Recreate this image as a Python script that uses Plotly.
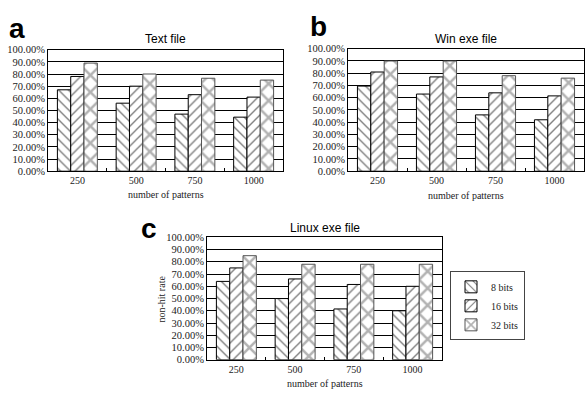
import plotly.graph_objects as go

categories = ["250", "500", "750", "1000"]
series_names = ["8 bits", "16 bits", "32 bits"]

text_8 = [67, 56, 47, 44.5]
text_16 = [78, 70, 63, 61]
text_32 = [89, 80, 76.5, 75]

win_8 = [69.5, 63, 46, 42]
win_16 = [81, 77, 64, 61.5]
win_32 = [90, 90, 78, 76]

linux_8 = [64, 50, 41.5, 40]
linux_16 = [75, 66, 61.5, 60]
linux_32 = [85, 78, 78, 78]

y_tick_vals = [0, 10, 20, 30, 40, 50, 60, 70, 80, 90, 100]
y_tick_text = ["0.00%", "10.00%", "20.00%", "30.00%", "40.00%", "50.00%",
               "60.00%", "70.00%", "80.00%", "90.00%", "100.00%"]

panel_titles = ["Text file", "Win exe file", "Linux exe file"]
panel_letters = ["a", "b", "c"]

W, H = 585, 393
SERIF = "Liberation Serif"
SANS = "Liberation Sans"

styles = [
    dict(shape="\\", fg="black", line="black", size=7, sol=0.2),
    dict(shape="/", fg="black", line="black", size=7, sol=0.2),
    dict(shape="x", fg="#666666", line="#555555", size=12, sol=0.38),
]

# plot-area boxes in pixels: x0, x1, ytop, ybottom
boxes = [
    (48, 283, 46, 171),
    (348, 584, 45, 171),
    (207, 442, 239, 365),
]

datasets = [
    [text_8, text_16, text_32],
    [win_8, win_16, win_32],
    [linux_8, linux_16, linux_32],
]

fig = go.Figure()

for p, (box, data) in enumerate(zip(boxes, datasets)):
    xa = "x" if p == 0 else f"x{p+1}"
    ya = "y" if p == 0 else f"y{p+1}"
    for s, vals in enumerate(data):
        st = styles[s]
        fig.add_trace(go.Bar(
            x=categories, y=vals, name=series_names[s],
            xaxis=xa, yaxis=ya,
            legendgroup=series_names[s], showlegend=(p == 2),
            marker=dict(
                color="white",
                line=dict(color=st["line"], width=1),
                pattern=dict(shape=st["shape"], fgcolor=st["fg"], bgcolor="white",
                             size=st["size"], solidity=st["sol"]),
            ),
        ))
    x0, x1, yt, yb = box
    xkey = "xaxis" if p == 0 else f"xaxis{p+1}"
    ykey = "yaxis" if p == 0 else f"yaxis{p+1}"
    fig.layout[xkey] = dict(
        domain=[x0 / W, x1 / W], anchor=ya, type="category",
        showline=True, linecolor="black", linewidth=1, mirror=True,
        ticks="inside", tickson="boundaries", ticklen=3, tickcolor="black",
        showgrid=False, tickfont=dict(family=SERIF, size=10, color="#222"),
        fixedrange=True,
    )
    fig.layout[ykey] = dict(
        domain=[1 - yb / H, 1 - yt / H], anchor=xa, range=[0, 100],
        tickvals=y_tick_vals, ticktext=y_tick_text,
        showline=True, linecolor="black", linewidth=1, mirror=True,
        showgrid=True, gridcolor="black", gridwidth=1, zeroline=False,
        ticks="", tickfont=dict(family=SERIF, size=10.5, color="#222"),
        fixedrange=True,
    )

annotations = []
title_y = [35, 35, 229]
xtitle_y = [195, 196, 389]
letter_pos = [(17, 24), (319, 22), (149, 230)]


def ann(text, x, y, font, **kw):
    d = dict(text=text, x=x / W, y=1 - y / H, xref="paper", yref="paper",
             xanchor="center", yanchor="middle", showarrow=False, font=font)
    d.update(kw)
    return d


for p, box in enumerate(boxes):
    x0, x1, yt, yb = box
    cx = (x0 + x1) / 2
    annotations.append(ann(panel_titles[p], cx, title_y[p],
                           dict(family=SANS, size=12, color="black")))
    annotations.append(ann("number of patterns", cx, xtitle_y[p],
                           dict(family=SERIF, size=10, color="#222")))
    lx, ly = letter_pos[p]
    annotations.append(ann("<b>" + panel_letters[p] + "</b>", lx, ly,
                           dict(family=SANS, size=28, color="black")))
annotations.append(ann("non-hit rate", 162, 303,
                       dict(family=SERIF, size=10, color="#222"), textangle=-90))

fig.update_layout(
    width=W, height=H, margin=dict(l=0, r=0, t=0, b=0),
    paper_bgcolor="white", plot_bgcolor="white",
    barmode="group", bargap=0.32, bargroupgap=0,
    annotations=annotations,
    legend=dict(x=450 / W, y=1 - 274 / H, xanchor="left", yanchor="top",
                bgcolor="white", bordercolor="#444", borderwidth=1,
                font=dict(family=SERIF, size=10, color="#222"),
                itemwidth=30, tracegroupgap=0),
)

fig.write_html("out.html", config={"displayModeBar": False},
               post_script="document.body.style.margin='0';")
